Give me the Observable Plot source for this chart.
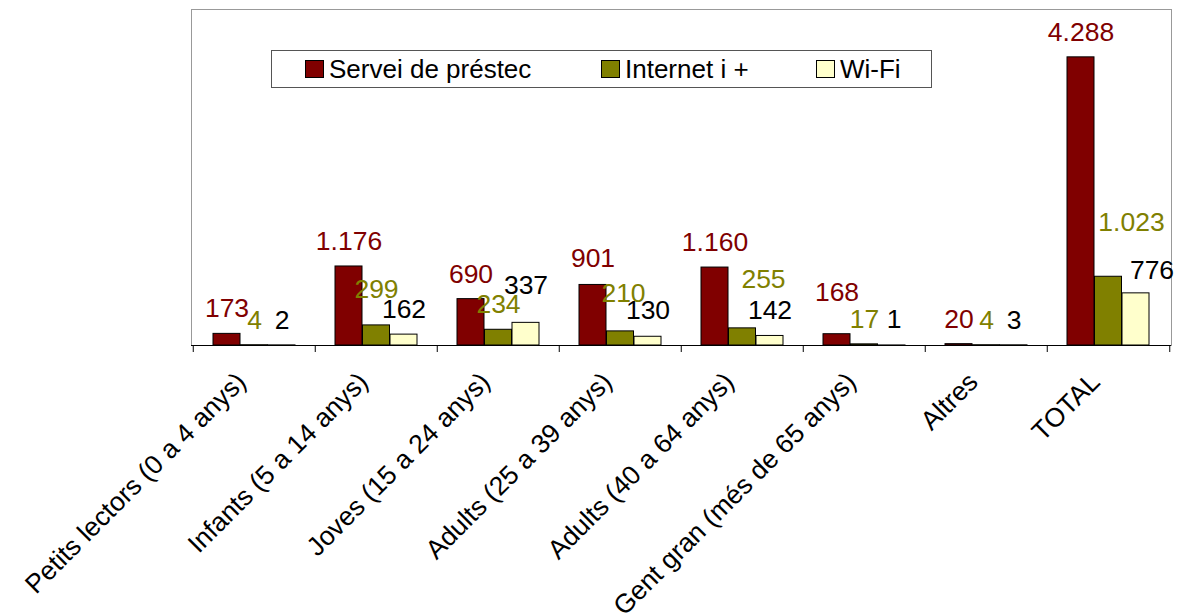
<!DOCTYPE html>
<html>
<head>
<meta charset="utf-8">
<script src="https://cdn.jsdelivr.net/npm/d3@7"></script>
<script src="https://cdn.jsdelivr.net/npm/@observablehq/plot@0.6"></script>
<style>
  html, body { margin: 0; padding: 0; background: #fff; }
  #wrap { position: relative; width: 1180px; height: 613px; font-family: "Liberation Sans", Arial, sans-serif; }
  #legend { position: absolute; left: 271px; top: 50px; width: 659px; height: 36px; border: 1px solid #555; background: #fff; box-sizing: content-box; }
  .item { position: absolute; top: 0; height: 36px; display: flex; align-items: center; font-size: 26px; color: #000; white-space: nowrap; }
  .sw { width: 17px; height: 16px; border: 1px solid #000; margin-right: 5px; }
</style>
</head>
<body>
<div id="wrap"></div>
<script>
const categories = ["Petits lectors (0 a 4 anys)", "Infants (5 a 14 anys)", "Joves (15 a 24 anys)", "Adults (25 a 39 anys)", "Adults (40 a 64 anys)", "Gent gran (més de 65 anys)", "Altres", "TOTAL"];
const seriesNames = ["Servei de préstec", "Internet i +", "Wi-Fi"];
const serveiPrestec = [173, 1176, 690, 901, 1160, 168, 20, 4288];
const internet = [4, 299, 234, 210, 255, 17, 4, 1023];
const wifi = [2, 162, 337, 130, 142, 1, 3, 776];

// styles
const fills = ["#800000", "#808000", "#FFFFCC"];
const labelColors = ["#800000", "#808000", "#000000"];
// label nudges (px) relative to bar centre / bar top
const labelDx = [
  [0, 0, 0, 0, 0, 0, 0, 0],
  [0, 0, 0, 3, 21, 0, 0, 23],
  [0, 0, 0, 0, 0, 2, 0, 16]
];
const labelDy = [
  [-25, -25, -25, -26, -25, -42, -25, -25],
  [-25, -36, -25, -38, -49, -25, -25, -54],
  [-25, -25, -37, -26, -25, -26, -25, -23]
];

const values = [serveiPrestec, internet, wifi];
const rows = values.map((vals, s) => categories.map((c, i) => ({cat: c, value: vals[i], series: s, idx: i})));

const fmt = d3.formatLocale({decimal: ",", thousands: ".", grouping: [3], currency: ["", ""]}).format(",");

const band = 980 / 8;      // category width
const pad = 20;            // outer padding inside each category
const bw = (band - 2 * pad) / 3;

const marks = [Plot.frame({stroke: "#999"})];

rows.forEach((data, s) => {
  marks.push(Plot.barY(data, {
    x: "cat", y: "value", fill: fills[s], stroke: "#000", strokeWidth: 1,
    insetLeft: pad + s * bw, insetRight: band - pad - (s + 1) * bw
  }));
});

rows.forEach((data, s) => {
  data.forEach((d, i) => {
    marks.push(Plot.text([d], {
      x: "cat", y: "value", text: v => fmt(v.value),
      fill: labelColors[s], fontSize: 26.5,
      dx: (s - 1) * bw + labelDx[s][i], dy: labelDy[s][i]
    }));
  });
});

marks.push(Plot.ruleY([0], {stroke: "#000"}));
// tick marks on category boundaries
marks.push(Plot.axisX({tickSize: 7, tickFormat: () => "", dx: -band / 2, stroke: "#000", label: null}));
marks.push(Plot.axisX(["TOTAL"], {tickSize: 7, tickFormat: () => "", dx: band / 2, stroke: "#000", label: null}));
// category labels
marks.push(Plot.axisX({tickSize: 0, tickRotate: -45, tickPadding: 32, dx: -13, fontSize: 26.5, fill: "#000", label: null}));

const chart = Plot.plot({
  width: 1180,
  height: 613,
  marginLeft: 191,
  marginRight: 9,
  marginTop: 9,
  marginBottom: 268,
  style: {fontFamily: "'Liberation Sans', Arial, sans-serif", background: "#fff", overflow: "visible"},
  x: {domain: categories, padding: 0, axis: null},
  y: {domain: [0, 5000], axis: null},
  marks
});

const wrap = document.getElementById("wrap");
wrap.appendChild(chart);

const legend = document.createElement("div");
legend.id = "legend";
const itemLeft = [33, 329, 544];
seriesNames.forEach((name, s) => {
  const it = document.createElement("div");
  it.className = "item";
  it.style.left = itemLeft[s] + "px";
  const sw = document.createElement("div");
  sw.className = "sw";
  sw.style.background = fills[s];
  const t = document.createElement("span");
  t.textContent = name;
  it.appendChild(sw);
  it.appendChild(t);
  legend.appendChild(it);
});
wrap.appendChild(legend);
</script>
</body>
</html>
